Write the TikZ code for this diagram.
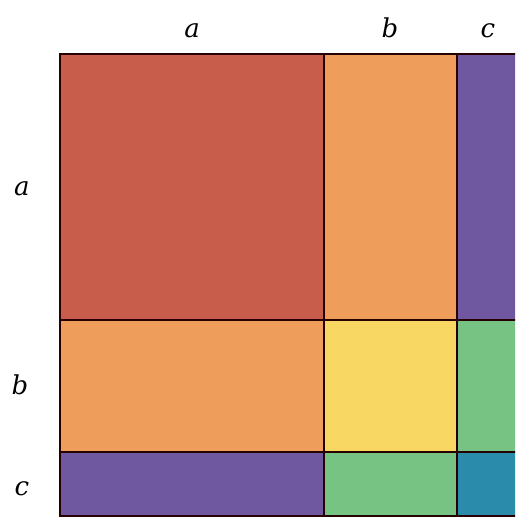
\documentclass[tikz,border=0pt]{standalone}
\usepackage{fontspec}
\setmainfont{DejaVu Serif}
\begin{document}
\begin{tikzpicture}[x=1pt,y=-1pt,
  cell/.style={draw=black!85!red,line width=1.4pt},
  lab/.style={font=\fontsize{26}{30}\selectfont\itshape,inner sep=0pt,anchor=base}]
\definecolor{cRed}{HTML}{C75D4A}
\definecolor{cOrange}{HTML}{EF9D5A}
\definecolor{cPurple}{HTML}{6F58A0}
\definecolor{cYellow}{HTML}{F8D862}
\definecolor{cGreen}{HTML}{77C383}
\definecolor{cTeal}{HTML}{2B8BAB}
\useasboundingbox (0,0) rectangle (515,517);
\begin{scope}
\clip (0,0) rectangle (515,517);
\fill[cRed] (60,54) rectangle (324,320);
\fill[cOrange] (324,54) rectangle (457,320);
\fill[cPurple] (457,54) rectangle (522,320);
\fill[cOrange] (60,320) rectangle (324,452);
\fill[cYellow] (324,320) rectangle (457,452);
\fill[cGreen] (457,320) rectangle (522,452);
\fill[cPurple] (60,452) rectangle (324,516);
\fill[cGreen] (324,452) rectangle (457,516);
\fill[cTeal] (457,452) rectangle (522,516);
\draw[cell] (60,54) rectangle (522,516);
\draw[cell] (324,54) -- (324,516);
\draw[cell] (457,54) -- (457,516);
\draw[cell] (60,320) -- (522,320);
\draw[cell] (60,452) -- (522,452);
\end{scope}
\node[lab] (ta) at (192,37) {a};
\node[lab] (tb) at (390,37) {b};
\node[lab] (tc) at (488,37) {c};
\node[lab] (la) at (22,195) {a};
\node[lab] (lb) at (20,394) {b};
\node[lab] (lc) at (22,495) {c};
\end{tikzpicture}
\end{document}
